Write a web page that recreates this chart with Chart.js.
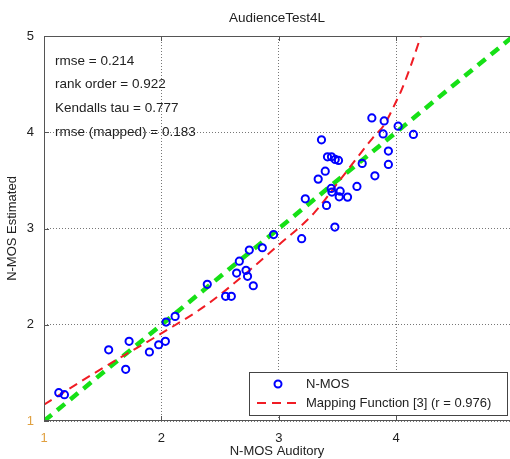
<!DOCTYPE html>
<html><head><meta charset="utf-8">
<script src="https://cdn.jsdelivr.net/npm/chart.js@4.4.0/dist/chart.umd.min.js"></script>
<style>html,body{margin:0;padding:0;background:#fff;overflow:hidden}#wrap{width:510px;height:459px;position:relative}</style>
</head><body><div id="wrap"><canvas id="c" width="510" height="459"></canvas></div>
<script>
// ---- data ----
const auditory = [1.126,1.174,1.551,1.725,1.696,1.898,1.977,2.034,2.040,2.117,
  2.391,2.547,2.596,2.641,2.721,2.734,2.783,2.664,2.749,2.860,2.956,3.195,
  3.226,3.336,3.396,3.407,3.364,3.415,3.449,3.481,3.509,3.447,3.453,3.523,
  3.515,3.586,3.478,3.666,3.711,3.819,3.934,3.934,3.793,3.898,3.889,4.017,4.147];
const estimated = [1.294,1.273,1.740,1.828,1.537,1.717,1.792,1.828,2.028,2.087,
  2.420,2.295,2.295,2.537,2.565,2.503,2.405,2.661,2.776,2.800,2.937,2.894,
  3.308,3.513,3.596,3.240,3.921,3.745,3.745,3.718,3.707,3.416,3.378,3.388,
  3.329,3.326,3.015,3.437,3.676,3.547,3.804,3.666,4.149,4.118,3.983,4.063,3.977];
const mapX = [1.0,1.5,2.0,2.4,3.0,3.3,3.5,3.8,3.9,4.0,4.05,4.2,4.21];
const mapY = [1.17,1.55,1.91,2.22,2.83,3.16,3.47,3.94,4.08,4.32,4.45,4.96,5.0];
const diagX = [1,5];
const diagY = [1,5];
const xTicks = [1,2,3,4];
const yTicks = [1,2,3,4,5];
const titleText = "AudienceTest4L";
const xTitle = "N-MOS Auditory";
const yTitle = "N-MOS Estimated";
const statLines = ["rmse = 0.214","rank order = 0.922","Kendalls tau = 0.777","rmse (mapped) = 0.183"];
const legendLabels = ["N-MOS","Mapping Function [3] (r = 0.976)"];

const FONT = "'Liberation Sans', Arial, sans-serif";
Chart.defaults.font.family = FONT;
Chart.defaults.font.size = 13;
Chart.defaults.color = '#222';

const pts = auditory.map((x,i)=>({x, y: estimated[i]}));
const mapPts = mapX.map((x,i)=>({x, y: mapY[i]}));
const diagPts = diagX.map((x,i)=>({x, y: diagY[i]}));

const decor = {
  id: 'decor',
  afterDraw(chart) {
    const ctx = chart.ctx, a = chart.chartArea;
    const xs = chart.scales.x, ys = chart.scales.y;
    ctx.save();
    // frame
    ctx.strokeStyle = '#555'; ctx.lineWidth = 1; ctx.setLineDash([]);
    ctx.beginPath();
    ctx.moveTo(a.right, a.top + 0.5); ctx.lineTo(a.left + 0.5, a.top + 0.5);
    ctx.lineTo(a.left + 0.5, a.bottom - 0.5); ctx.lineTo(a.right, a.bottom - 0.5);
    ctx.stroke();
    // inner tick marks
    ctx.beginPath();
    xTicks.forEach(v => { const p = Math.round(xs.getPixelForValue(v)) + 0.5;
      ctx.moveTo(p, a.bottom); ctx.lineTo(p, a.bottom - 5); ctx.moveTo(p, a.top); ctx.lineTo(p, a.top + 5); });
    yTicks.forEach(v => { const p = Math.round(ys.getPixelForValue(v)) + 0.5;
      ctx.moveTo(a.left, p); ctx.lineTo(a.left + 5, p); });
    ctx.stroke();
    // title
    ctx.fillStyle = '#222'; ctx.font = '13.5px ' + FONT;
    ctx.textAlign = 'center'; ctx.textBaseline = 'middle';
    ctx.fillText(titleText, (a.left + a.right) / 2, 18);
    // stats text
    ctx.textAlign = 'left';
    const sy = [61, 84, 108, 132];
    statLines.forEach((t,i) => ctx.fillText(t, a.left + 11, sy[i]));
    // legend
    ctx.font = '13px ' + FONT;
    const lx = 249, ly = 372, lw = 258, lh = 43;
    ctx.fillStyle = '#fff'; ctx.fillRect(lx, ly, lw, lh);
    ctx.strokeStyle = '#444'; ctx.lineWidth = 1;
    ctx.strokeRect(lx + 0.5, ly + 0.5, lw, lh);
    ctx.strokeStyle = '#0000ff'; ctx.lineWidth = 2;
    ctx.beginPath(); ctx.arc(278, 384, 3.5, 0, Math.PI * 2); ctx.stroke();
    ctx.strokeStyle = '#f01c24'; ctx.lineWidth = 2; ctx.setLineDash([9,6]);
    ctx.beginPath(); ctx.moveTo(257, 403); ctx.lineTo(301, 403); ctx.stroke();
    ctx.setLineDash([]);
    ctx.fillStyle = '#222';
    ctx.fillText(legendLabels[0], 306, 384);
    ctx.fillText(legendLabels[1], 306, 403);
    ctx.restore();
  }
};

new Chart(document.getElementById('c'), {
  type: 'scatter',
  data: { datasets: [
    { label: legendLabels[0], data: pts, order: 0, pointStyle: 'circle', pointRadius: 3.6,
      pointBorderWidth: 2, borderColor: '#0000ff', backgroundColor: 'rgba(0,0,0,0)', showLine: false },
    { label: legendLabels[1], data: mapPts, order: 1, showLine: true, pointRadius: 0,
      borderColor: '#f01c24', borderWidth: 2, borderDash: [9,6], cubicInterpolationMode: 'monotone', fill: false },
    { label: 'diag', data: diagPts, order: 2, showLine: true, pointRadius: 0,
      borderColor: '#16e016', borderWidth: 4.5, borderDash: [10,7], fill: false }
  ]},
  options: {
    responsive: false, animation: false, events: [],
    layout: { autoPadding: false, padding: { top: 36, right: 0, left: 0, bottom: 0 } },
    plugins: { legend: { display: false }, tooltip: { enabled: false }, title: { display: false } },
    scales: {
      x: { type: 'linear', min: 1, max: 4.97,
        afterBuildTicks: s => { s.ticks = xTicks.map(v => ({value: v})); },
        afterFit: s => { s.height = 38; s.paddingLeft = 0; s.paddingRight = 0; },
        grid: { color: '#777', lineWidth: 1, drawTicks: false, borderDash: [1,2] },
        border: { display: false, dash: [1,2] },
        ticks: { padding: 10, font: { size: 13 }, callback: v => String(v),
          color: c => c.tick && c.tick.value === 1 ? '#e0a040' : '#222' },
        title: { display: true, text: xTitle, font: { size: 13 }, padding: { top: 0, bottom: 0 }, color: '#222' } },
      y: { type: 'linear', min: 1, max: 5,
        afterBuildTicks: s => { s.ticks = yTicks.map(v => ({value: v})); },
        afterFit: s => { s.width = 44; s.paddingTop = 0; s.paddingBottom = 0; },
        grid: { color: '#777', lineWidth: 1, drawTicks: false, borderDash: [1,2] },
        border: { display: false, dash: [1,2] },
        ticks: { padding: 10, font: { size: 13 }, callback: v => String(v),
          color: c => c.tick && c.tick.value === 1 ? '#e0a040' : '#222' },
        title: { display: true, text: yTitle, font: { size: 13 }, padding: { top: 5, bottom: 0 }, color: '#222' } }
    }
  },
  plugins: [decor]
});
</script></body></html>
